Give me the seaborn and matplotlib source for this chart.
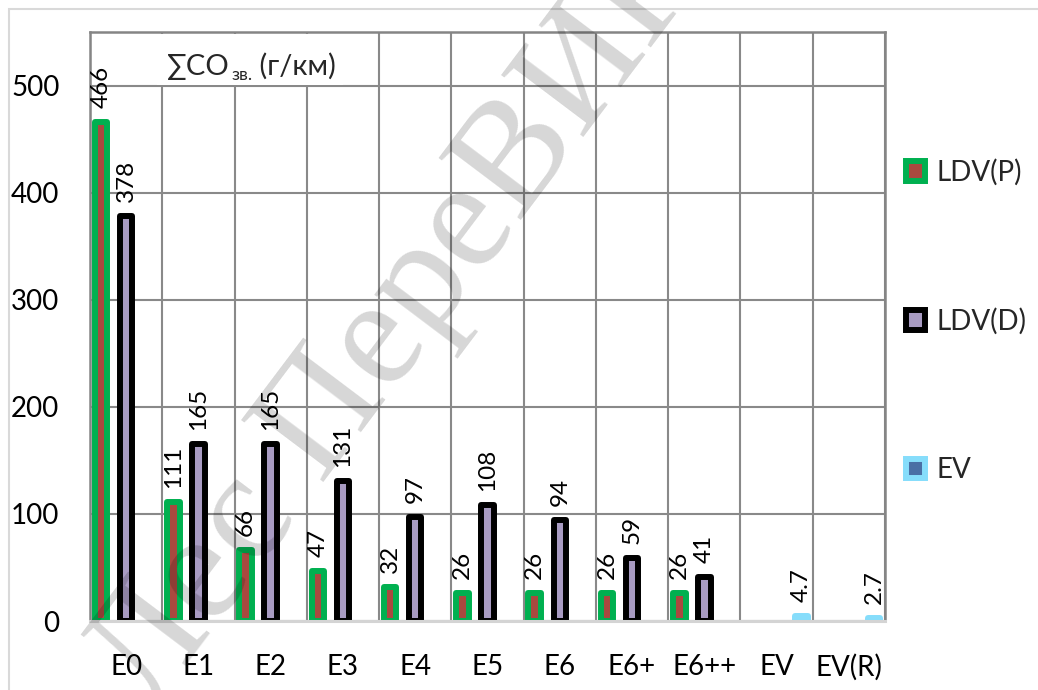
import numpy as np
import pandas as pd
import matplotlib
matplotlib.use("Agg")
import matplotlib.pyplot as plt
from matplotlib.patches import Patch, Rectangle
import seaborn as sns

# ---- data -------------------------------------------------------------
categories = ["E0", "E1", "E2", "E3", "E4", "E5", "E6", "E6+", "E6++", "EV", "EV(R)"]
series_names = ["LDV(P)", "LDV(D)", "EV"]
ldv_p = [466, 111, 66, 47, 32, 26, 26, 26, 26, np.nan, np.nan]
ldv_d = [378, 165, 165, 131, 97, 108, 94, 59, 41, np.nan, np.nan]
ev = [np.nan] * 9 + [4.7, 2.7]
y_ticks = [0, 100, 200, 300, 400, 500]
title_main = "∑CO"
title_sub = "зв."
title_unit = " (г/км)"
watermark = "Лес ПереВИК"

# ---- styling ----------------------------------------------------------
fill_colors = {"LDV(P)": "#A9493F", "LDV(D)": "#A89BC2", "EV": "#4A6FA5"}
edge_colors = {"LDV(P)": "#00B050", "LDV(D)": "#000000", "EV": "#86DDFB"}

sns.set_theme(style="white")
plt.rcParams["font.family"] = ["Lato", "DejaVu Sans"]
FONT = ["Lato", "DejaVu Sans"]

df = pd.DataFrame({
    "category": categories * 3,
    "series": np.repeat(series_names, len(categories)),
    "value": ldv_p + ldv_d + ev,
}).dropna()

fig = plt.figure(figsize=(10.38, 6.90), dpi=100)
ax = fig.add_axes([90 / 1038, 1 - 621 / 690, 795 / 1038, 589 / 690])

sns.barplot(
    data=df, x="category", y="value", hue="series",
    order=categories, hue_order=series_names,
    palette=fill_colors, saturation=1, errorbar=None,
    width=1.04, gap=0.5, legend=False, ax=ax,
)

# thick rounded outlines and rotated value labels for each series
for name, cont in zip(series_names, ax.containers):
    for bar in cont:
        bar.set_edgecolor(edge_colors[name])
        bar.set_linewidth(4.3)
        bar.set_joinstyle("round")
        bar.set_zorder(2)
    ax.bar_label(cont, fmt="{:g}", rotation=90, padding=10,
                 fontsize=17.5, family=FONT, color="black")

# axes, grid and spines
ax.set_xlim(-0.5, len(categories) - 0.5)
ax.set_ylim(0, 550)
ax.set_yticks(y_ticks)
ax.set_xticks(range(len(categories)))
ax.set_xticklabels(categories)
ax.set_xticks(np.arange(-0.5, len(categories), 1), minor=True)
ax.set_xlabel("")
ax.set_ylabel("")
ax.set_axisbelow(True)
ax.grid(axis="y", which="major", color="#898989", linewidth=1.5)
ax.grid(axis="x", which="minor", color="#898989", linewidth=1.5)
ax.grid(axis="x", which="major", visible=False)
ax.tick_params(axis="both", which="both", length=0)
ax.tick_params(axis="y", labelsize=20, pad=22)
ax.tick_params(axis="x", labelsize=20, pad=24)
for lab in ax.get_xticklabels() + ax.get_yticklabels():
    lab.set_family(FONT)
    lab.set_color("black")
for side in ("left", "top", "right"):
    ax.spines[side].set_color("#858585")
    ax.spines[side].set_linewidth(1.8)
ax.spines["bottom"].set_color("#D4D4D4")
ax.spines["bottom"].set_linewidth(2.2)
ax.spines["bottom"].set_zorder(3)

# title panel inside the plot area
ax.add_patch(Rectangle((0.084, 0.910), 0.234, 0.087, transform=ax.transAxes,
                       facecolor="white", edgecolor="none", zorder=1.5))
t1 = ax.text(0.097, 0.927, title_main, transform=ax.transAxes, fontsize=21,
             family=FONT, va="baseline", ha="left", zorder=4)
t2 = ax.annotate(title_sub, xy=(1, 0), xycoords=t1, xytext=(1, -2.5),
                 textcoords="offset points", fontsize=13, family=FONT,
                 va="bottom", ha="left", zorder=4)
t3 = ax.annotate(title_unit, xy=(1, 0), xycoords=(t2, t1), fontsize=21,
                 family=FONT, va="bottom", ha="left", zorder=4)

# legend on the right
handles = [Patch(facecolor=fill_colors[n], edgecolor=edge_colors[n],
                 linewidth=4.3, joinstyle="round") for n in series_names]
fig.legend(handles, series_names, loc="center left",
           bbox_to_anchor=(906 / 1038, 1 - 321 / 690), frameon=False,
           prop={"family": FONT, "size": 20},
           handlelength=0.7, handleheight=0.7, handletextpad=0.4,
           labelspacing=4.4, borderpad=0, borderaxespad=0)

# outer chart frame
fig.patches.append(Rectangle((9 / 1038, -0.1), 1.2, 1 - 9 / 690 + 0.1,
                             transform=fig.transFigure, facecolor="none",
                             edgecolor="#D9D9D9", linewidth=1.5, zorder=0))

# diagonal watermark
fig.text(400 / 1038, 1 - 318 / 690, watermark, rotation=53, rotation_mode="anchor",
         ha="center", va="center", fontsize=112, family="Liberation Serif",
         color="black", alpha=0.16, zorder=10)

fig.savefig("out.png", dpi=100)
